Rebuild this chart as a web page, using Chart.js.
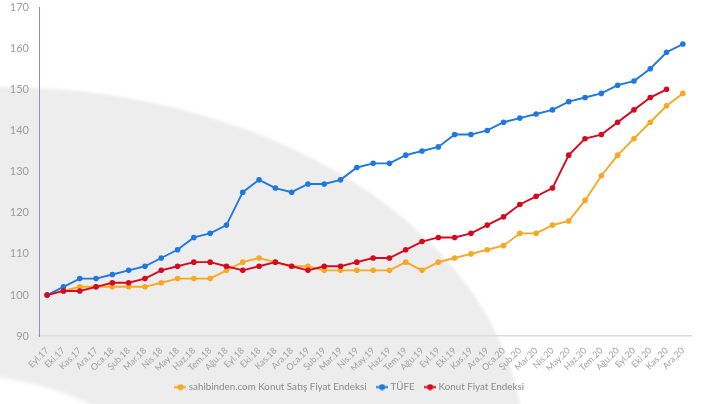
<!DOCTYPE html>
<html lang="tr">
<head>
<meta charset="utf-8">
<title>Konut fiyat endeksleri ve TÜFE</title>
<script src="https://cdn.jsdelivr.net/npm/chart.js@4/dist/chart.umd.min.js"></script>
<style>
  html, body { margin: 0; padding: 0; background: #ffffff; }
  #wrap { position: relative; width: 710px; height: 404px; overflow: hidden; }
  .shape { position: absolute; border-radius: 50%; filter: blur(1.5px); }
  #arc { left: -524px; top: 87px; width: 1048px; height: 726px; background: #eeedee; }
  #cut { left: -280px; top: 375px; width: 480px; height: 370px; background: #ffffff; filter: blur(2px); }
  #chart { position: absolute; left: 0; top: 0; }
</style>
</head>
<body>
<div id="wrap">
  <div class="shape" id="arc"></div>
  <div class="shape" id="cut"></div>
  <canvas id="chart" width="710" height="404"></canvas>
</div>
<script>
// Months, Eylül 2017 – Aralık 2020 (Eyl.17 = 100)
const months = [
  'Eyl.17','Eki.17','Kas.17','Ara.17',
  'Oca.18','Şub.18','Mar.18','Nis.18','May.18','Haz.18','Tem.18','Ağu.18','Eyl.18','Eki.18','Kas.18','Ara.18',
  'Oca.19','Şub.19','Mar.19','Nis.19','May.19','Haz.19','Tem.19','Ağu.19','Eyl.19','Eki.19','Kas.19','Ara.19',
  'Oca.20','Şub.20','Mar.20','Nis.20','May.20','Haz.20','Tem.20','Ağu.20','Eyl.20','Eki.20','Kas.20','Ara.20'
];

const sahibinden = [
  100,101,102,102,102,102,102,103,104,104,
  104,106,108,109,108,107,107,106,106,106,
  106,106,108,106,108,109,110,111,112,115,
  115,117,118,123,129,134,138,142,146,149
];

const tufe = [
  100,102,104,104,105,106,107,109,111,114,
  115,117,125,128,126,125,127,127,128,131,
  132,132,134,135,136,139,139,140,142,143,
  144,145,147,148,149,151,152,155,159,161
];

const konutFiyat = [
  100,101,101,102,103,103,104,106,107,108,
  108,107,106,107,108,107,106,107,107,108,
  109,109,111,113,114,114,115,117,119,122,
  124,126,134,138,139,142,145,148,150,null
];

const yTicks = [90, 100, 110, 120, 130, 140, 150, 160, 170];

const seriesNames = ['sahibinden.com Konut Satış Fiyat Endeksi', 'TÜFE', 'Konut Fiyat Endeksi'];
const seriesColors = ['#f7a823', '#1f78e0', '#d40a1f'];

// small "line with dot" legend marker
function legendMarker(color) {
  const c = document.createElement('canvas');
  c.width = 12; c.height = 7;
  const g = c.getContext('2d');
  g.strokeStyle = color; g.lineWidth = 2;
  g.beginPath(); g.moveTo(0, 3.5); g.lineTo(12, 3.5); g.stroke();
  g.fillStyle = color;
  g.beginPath(); g.arc(6, 3.5, 3, 0, Math.PI * 2); g.fill();
  return c;
}
const markers = seriesColors.map(legendMarker);

function lineSet(label, data, color, order) {
  return {
    label, data, order,
    borderColor: color,
    backgroundColor: color,
    pointBackgroundColor: color,
    pointBorderColor: color,
    borderWidth: 1.9,
    pointRadius: 2.8,
    pointBorderWidth: 0,
    tension: 0,
    fill: false,
    spanGaps: false
  };
}

const FONT = 'Lato, "Open Sans", sans-serif';

new Chart(document.getElementById('chart'), {
  type: 'line',
  data: {
    labels: months,
    datasets: [
      lineSet(seriesNames[0], sahibinden, seriesColors[0], 2),
      lineSet(seriesNames[1], tufe, seriesColors[1], 1),
      lineSet(seriesNames[2], konutFiyat, seriesColors[2], 0)
    ]
  },
  options: {
    responsive: false,
    animation: false,
    events: [],
    layout: { padding: { left: 10, right: 19, top: 0, bottom: 2 } },
    scales: {
      x: {
        offset: true,
        grid: { display: false, drawTicks: false },
        border: { display: true, color: '#dcdcdc', width: 1.5 },
        ticks: {
          autoSkip: false,
          minRotation: 45,
          maxRotation: 45,
          padding: 9,
          color: '#a2a2a2',
          font: { family: FONT, size: 9 }
        },
        afterFit(scale) { scale.height = 34; }
      },
      y: {
        min: 90,
        max: 170,
        grid: { display: false, drawTicks: false },
        border: { display: true, color: '#8f98a2', width: 1 },
        afterBuildTicks(scale) { scale.ticks = yTicks.map(v => ({ value: v })); },
        ticks: {
          padding: 10,
          color: '#9d9d9d',
          font: { family: FONT, size: 11 }
        },
        afterFit(scale) {
          scale.width = 29;
          scale.paddingTop = 7;
          scale.paddingBottom = 0;
        }
      }
    },
    plugins: {
      tooltip: { enabled: false },
      legend: {
        position: 'bottom',
        labels: {
          usePointStyle: true,
          pointStyleWidth: 7,
          padding: 12,
          color: '#8a8a8a',
          font: { family: FONT, size: 9.8 },
          sort: (a, b) => a.datasetIndex - b.datasetIndex,
          generateLabels(chart) {
            const items = Chart.defaults.plugins.legend.labels.generateLabels(chart);
            items.forEach(it => { it.pointStyle = markers[it.datasetIndex]; it.rotation = 0; });
            return items;
          }
        }
      }
    }
  }
});
</script>
</body>
</html>
